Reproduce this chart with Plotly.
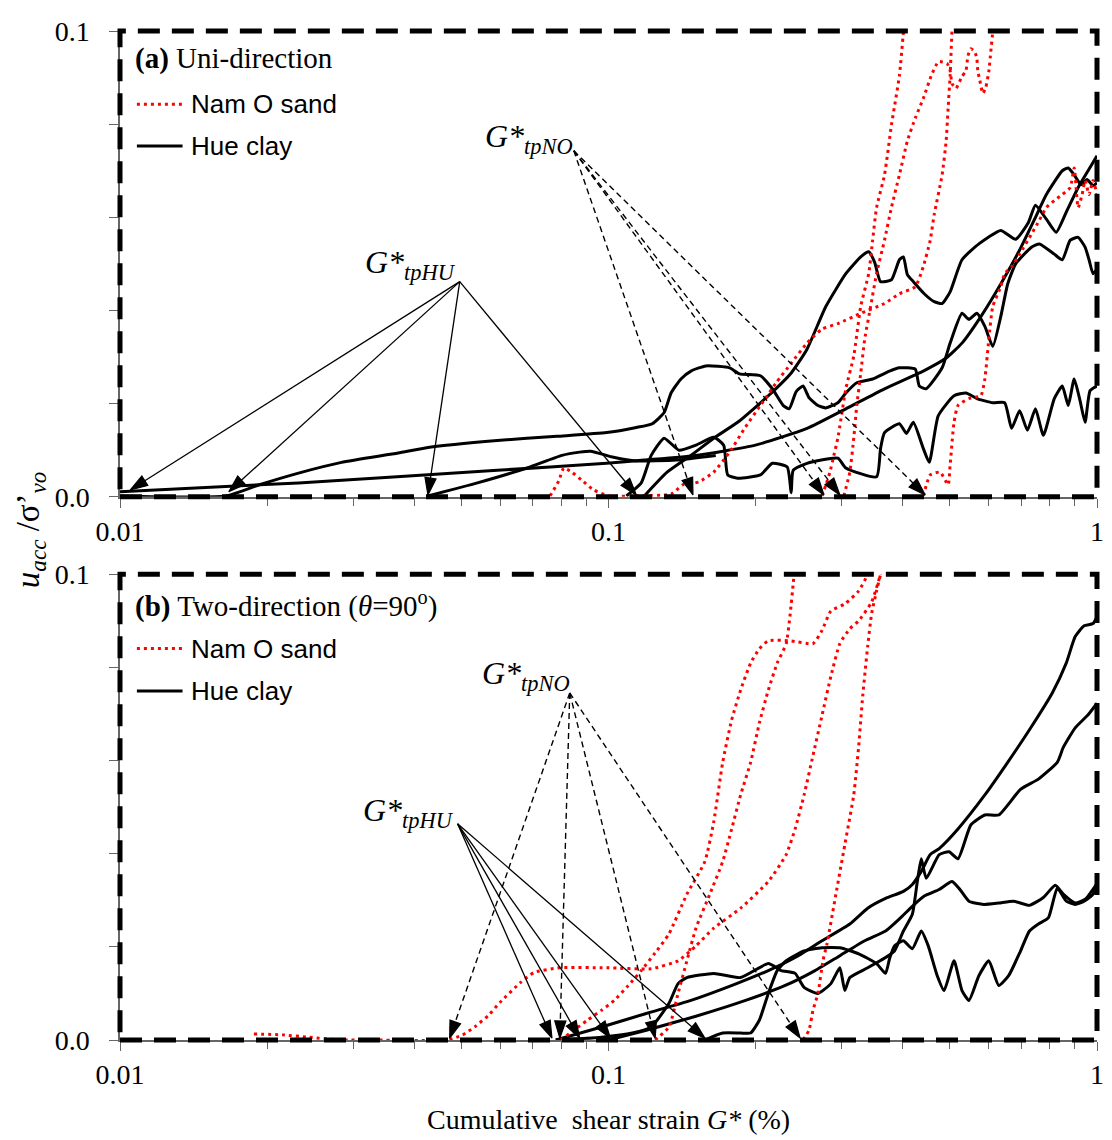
import plotly.graph_objects as go

# ---------------- DATA ----------------
# Panel (a) Uni-direction : Hue clay (black solid)
a_hu1_x = [0.0100, 0.0165, 0.0193, 0.0232, 0.0284, 0.0371, 0.0427, 0.0592, 0.0784, 0.0991, 0.1140, 0.1229, 0.1300, 0.1343, 0.1407, 0.1475, 0.1582, 0.1770, 0.1855, 0.2046, 0.2165, 0.2279, 0.2344, 0.2422, 0.2502, 0.2573, 0.2684, 0.2787, 0.2948, 0.3061, 0.3223, 0.3473, 0.3760, 0.3940, 0.4246, 0.4327, 0.4471, 0.4819, 0.5004, 0.5292, 0.5468, 0.5677, 0.5894, 0.6119, 0.6353, 0.6564, 0.6815, 0.7342, 0.7622, 0.8176, 0.8491, 0.8814, 0.9150, 0.9454, 0.9632, 0.9815, 1.0]
a_hu1_y = [0.0002, 0.0002, 0.0026, 0.0051, 0.0074, 0.0094, 0.0106, 0.0121, 0.0130, 0.0138, 0.0149, 0.0157, 0.0181, 0.0223, 0.0253, 0.0270, 0.0281, 0.0277, 0.0264, 0.0260, 0.0232, 0.0196, 0.0189, 0.0226, 0.0238, 0.0213, 0.0196, 0.0191, 0.0202, 0.0223, 0.0245, 0.0253, 0.0270, 0.0277, 0.0274, 0.0238, 0.0232, 0.0277, 0.0330, 0.0394, 0.0381, 0.0394, 0.0366, 0.0323, 0.0387, 0.0457, 0.0500, 0.0536, 0.0543, 0.0521, 0.0509, 0.0551, 0.0557, 0.0536, 0.0509, 0.0479, 0.0489]

a_hu2_x = [0.0100, 0.0232, 0.0592, 0.0991, 0.1184, 0.1510, 0.1999, 0.2549, 0.3061, 0.3673, 0.4409, 0.4911, 0.5292, 0.5784, 0.6353, 0.6944, 0.7482, 0.7877, 0.8491, 0.8732, 0.8981, 0.9280, 0.9543, 0.9815, 1.0]
a_hu2_y = [0.0011, 0.0030, 0.0057, 0.0072, 0.0079, 0.0089, 0.0111, 0.0147, 0.0189, 0.0232, 0.0270, 0.0298, 0.0330, 0.0387, 0.0457, 0.0530, 0.0600, 0.0649, 0.0700, 0.0706, 0.0691, 0.0670, 0.0681, 0.0668, 0.0674]

a_hu3_x = [0.0427, 0.0539, 0.0681, 0.0803, 0.0873, 0.0919, 0.1024, 0.1140, 0.1375, 0.1658]
a_hu3_y = [0.0002, 0.0030, 0.0062, 0.0089, 0.0096, 0.0098, 0.0085, 0.0077, 0.0079, 0.0089]

a_hu4_x = [0.1088, 0.1167, 0.1223, 0.1300, 0.1394, 0.1510, 0.1642, 0.1721, 0.1754, 0.1838, 0.2046, 0.2165, 0.2322, 0.2366, 0.2388, 0.2549, 0.2948, 0.3061, 0.3538, 0.3605, 0.3673, 0.3940, 0.4073, 0.4207, 0.4409, 0.4536, 0.4731, 0.5097, 0.5391, 0.5677, 0.6119, 0.6471, 0.6686, 0.6944, 0.7204, 0.7482, 0.7767, 0.8176, 0.8491, 0.8732, 0.8981, 0.9234, 0.9454, 0.9678, 1.0]
a_hu4_y = [0.0002, 0.0030, 0.0089, 0.0126, 0.0100, 0.0111, 0.0128, 0.0111, 0.0047, 0.0040, 0.0047, 0.0072, 0.0064, 0.0009, 0.0057, 0.0072, 0.0083, 0.0062, 0.0043, 0.0104, 0.0138, 0.0157, 0.0136, 0.0160, 0.0104, 0.0074, 0.0174, 0.0217, 0.0223, 0.0211, 0.0202, 0.0202, 0.0147, 0.0185, 0.0143, 0.0189, 0.0132, 0.0211, 0.0238, 0.0196, 0.0253, 0.0206, 0.0160, 0.0228, 0.0238]

a_hu5_x = [0.1184, 0.1318, 0.1475, 0.1642, 0.1838, 0.2124, 0.2366, 0.2549, 0.2787, 0.3061, 0.3284, 0.3409, 0.3505, 0.3605, 0.3795, 0.3940, 0.4015, 0.4091, 0.4207, 0.4429, 0.4642, 0.4819, 0.5004, 0.5292, 0.5730, 0.6353, 0.6815, 0.7238, 0.7482, 0.7877, 0.8253, 0.8650, 0.9150, 0.9588, 1.0]
a_hu5_y = [0.0002, 0.0053, 0.0089, 0.0126, 0.0160, 0.0217, 0.0266, 0.0317, 0.0409, 0.0479, 0.0515, 0.0526, 0.0504, 0.0462, 0.0466, 0.0509, 0.0515, 0.0477, 0.0462, 0.0436, 0.0419, 0.0415, 0.0440, 0.0509, 0.0543, 0.0572, 0.0553, 0.0589, 0.0626, 0.0596, 0.0568, 0.0611, 0.0664, 0.0700, 0.0732]

# Panel (a) : Nam O sand (red dotted)
a_no1_x = [0.0759, 0.0791, 0.0810, 0.0841, 0.0881, 0.0932, 0.1000, 0.1140, 0.1343, 0.1421, 0.1531, 0.1642, 0.1770, 0.1899, 0.2046, 0.2205, 0.2366, 0.2549, 0.2735, 0.2948, 0.3284, 0.3673, 0.3940, 0.4246, 0.4409, 0.4557, 0.4642, 0.4819, 0.4911, 0.4957, 0.5004, 0.5050, 0.5097]
a_no1_y = [0.0002, 0.0034, 0.0062, 0.0053, 0.0036, 0.0015, 0.0002, 0.0002, 0.0006, 0.0026, 0.0032, 0.0053, 0.0096, 0.0147, 0.0196, 0.0245, 0.0287, 0.0330, 0.0360, 0.0372, 0.0394, 0.0415, 0.0436, 0.0451, 0.0494, 0.0551, 0.0606, 0.0691, 0.0764, 0.0834, 0.0904, 0.1004, 0.1068]

a_no2_x = [0.2735, 0.2787, 0.2840, 0.2893, 0.2948, 0.3061, 0.3177, 0.3284, 0.3409, 0.3473, 0.3538, 0.3673, 0.3795, 0.3940, 0.4015, 0.4052]
a_no2_y = [0.0002, 0.0026, 0.0053, 0.0089, 0.0126, 0.0232, 0.0302, 0.0409, 0.0479, 0.0551, 0.0621, 0.0691, 0.0798, 0.0904, 0.0998, 0.1047]

a_no3_x = [0.3032, 0.3119, 0.3177, 0.3223, 0.3284, 0.3345, 0.3441, 0.3538, 0.3673, 0.3795, 0.3940, 0.4091, 0.4246, 0.4409, 0.4578, 0.4731, 0.4797, 0.4934, 0.5004, 0.5050, 0.5145, 0.5218, 0.5292, 0.5391, 0.5443, 0.5520, 0.5623, 0.5677, 0.5703, 0.5757, 0.5838, 0.5921, 0.6005, 0.6061, 0.6119, 0.6147]
a_no3_y = [0.0002, 0.0053, 0.0126, 0.0196, 0.0266, 0.0338, 0.0409, 0.0479, 0.0551, 0.0621, 0.0691, 0.0764, 0.0813, 0.0855, 0.0904, 0.0934, 0.0934, 0.0930, 0.0915, 0.0887, 0.0877, 0.0889, 0.0902, 0.0915, 0.0947, 0.0962, 0.0955, 0.0940, 0.0913, 0.0894, 0.0866, 0.0879, 0.0913, 0.0955, 0.1000, 0.1036]

a_no4_x = [0.4409, 0.4557, 0.4775, 0.4957, 0.5004, 0.5097, 0.5193, 0.5468, 0.5784, 0.5894, 0.6005, 0.6119, 0.6353, 0.6471, 0.6686, 0.6944, 0.7342, 0.7622, 0.7877, 0.8176, 0.8491, 0.8814, 0.8981, 0.9150, 0.9322, 0.9454, 0.9632, 0.9815, 1.0]
a_no4_y = [0.0002, 0.0047, 0.0053, 0.0026, 0.0068, 0.0160, 0.0196, 0.0211, 0.0217, 0.0253, 0.0338, 0.0409, 0.0451, 0.0479, 0.0494, 0.0521, 0.0564, 0.0594, 0.0621, 0.0636, 0.0649, 0.0664, 0.0706, 0.0621, 0.0649, 0.0679, 0.0649, 0.0679, 0.0649]

# Panel (b) Two-direction : Nam O sand (red dotted)
b_no1_x = [0.0188, 0.0215, 0.0243, 0.0284, 0.0333, 0.0469, 0.0503, 0.0532, 0.0568, 0.0600, 0.0660, 0.0704, 0.0795, 0.0991, 0.1223, 0.1388, 0.1510, 0.1642, 0.1864, 0.2124, 0.2311, 0.2410, 0.2514, 0.2622, 0.2735, 0.2853, 0.2976, 0.3119, 0.3253, 0.3456, 0.3605, 0.3673]
b_no1_y = [0.0013, 0.0011, 0.0006, 0.0000, 0.0000, 0.0000, 0.0011, 0.0028, 0.0053, 0.0081, 0.0123, 0.0145, 0.0155, 0.0155, 0.0153, 0.0170, 0.0202, 0.0240, 0.0283, 0.0340, 0.0398, 0.0453, 0.0526, 0.0611, 0.0696, 0.0781, 0.0851, 0.0883, 0.0900, 0.0940, 0.1000, 0.1032]

b_no2_x = [0.0799, 0.0849, 0.0907, 0.0968, 0.1028, 0.1098, 0.1167, 0.1246, 0.1330, 0.1447, 0.1575, 0.1642, 0.1713, 0.1787, 0.1864, 0.1954, 0.2037, 0.2124, 0.2355, 0.2622, 0.2735, 0.2853, 0.3046, 0.3253, 0.3393, 0.3441]
b_no2_y = [0.0000, 0.0021, 0.0043, 0.0064, 0.0085, 0.0117, 0.0149, 0.0187, 0.0228, 0.0313, 0.0383, 0.0468, 0.0596, 0.0687, 0.0751, 0.0809, 0.0840, 0.0857, 0.0857, 0.0851, 0.0879, 0.0921, 0.0936, 0.0964, 0.1000, 0.1032]

b_no3_x = [0.1246, 0.1330, 0.1388, 0.1447, 0.1510, 0.1612, 0.1713, 0.1787, 0.1864, 0.1954, 0.2037, 0.2124, 0.2215, 0.2311, 0.2355, 0.2388, 0.2410]
b_no3_y = [0.0000, 0.0028, 0.0100, 0.0170, 0.0240, 0.0313, 0.0383, 0.0453, 0.0526, 0.0596, 0.0681, 0.0751, 0.0809, 0.0851, 0.0915, 0.0979, 0.1021]

b_no4_x = [0.2502, 0.2573, 0.2622, 0.2684, 0.2748, 0.2800, 0.2921, 0.3046, 0.3177, 0.3253, 0.3314, 0.3393, 0.3456, 0.3538, 0.3605, 0.3639]
b_no4_y = [0.0000, 0.0021, 0.0064, 0.0100, 0.0170, 0.0206, 0.0313, 0.0419, 0.0526, 0.0632, 0.0738, 0.0845, 0.0915, 0.0964, 0.1000, 0.1032]

# Panel (b) : Hue clay (black solid)
b_hu1_x = [0.0780, 0.0968, 0.1195, 0.1475, 0.1829, 0.2124, 0.2410, 0.2735, 0.3119, 0.3393, 0.3691, 0.4015, 0.4188, 0.4368, 0.4557, 0.4753, 0.5193, 0.5894, 0.6564, 0.7273, 0.8100, 0.8650, 0.9023, 0.9410, 0.9815, 1.0]
b_hu1_y = [0.0000, 0.0028, 0.0057, 0.0085, 0.0121, 0.0149, 0.0177, 0.0213, 0.0249, 0.0283, 0.0304, 0.0319, 0.0334, 0.0362, 0.0398, 0.0411, 0.0453, 0.0526, 0.0596, 0.0666, 0.0745, 0.0809, 0.0866, 0.0889, 0.0894, 0.0909]

b_hu2_x = [0.0780, 0.0968, 0.1119, 0.1223, 0.1330, 0.1388, 0.1447, 0.1642, 0.1864, 0.2124, 0.2258, 0.2410, 0.2514, 0.2684, 0.2853, 0.2976, 0.3046, 0.3119, 0.3393, 0.3691, 0.3849, 0.4015, 0.4188, 0.4287, 0.4368, 0.4471, 0.4753, 0.4980, 0.5193, 0.5520, 0.5894, 0.6292, 0.6973, 0.7587, 0.8292, 0.8530, 0.9023, 0.9588, 1.0]
b_hu2_y = [0.0000, 0.0006, 0.0015, 0.0028, 0.0079, 0.0121, 0.0134, 0.0143, 0.0134, 0.0164, 0.0149, 0.0143, 0.0113, 0.0100, 0.0121, 0.0155, 0.0106, 0.0134, 0.0155, 0.0177, 0.0191, 0.0234, 0.0270, 0.0340, 0.0389, 0.0347, 0.0398, 0.0404, 0.0389, 0.0462, 0.0483, 0.0483, 0.0538, 0.0560, 0.0596, 0.0628, 0.0670, 0.0698, 0.0723]

b_hu3_x = [0.1000, 0.1195, 0.1510, 0.1908, 0.2300, 0.2647, 0.2976, 0.3345, 0.3691, 0.3940, 0.4188, 0.4429, 0.4753, 0.5050, 0.5242, 0.5468, 0.5866, 0.6292, 0.6750, 0.7273, 0.7767, 0.8215, 0.8530, 0.9023, 0.9454, 1.0]
b_hu3_y = [0.0000, 0.0021, 0.0051, 0.0085, 0.0117, 0.0149, 0.0181, 0.0213, 0.0234, 0.0260, 0.0287, 0.0309, 0.0323, 0.0340, 0.0323, 0.0298, 0.0291, 0.0294, 0.0298, 0.0289, 0.0306, 0.0332, 0.0313, 0.0294, 0.0302, 0.0336]

b_hu4_x = [0.1575, 0.1713, 0.1864, 0.1954, 0.2037, 0.2124, 0.2215, 0.2311, 0.2514, 0.2735, 0.2976, 0.3253, 0.3538, 0.3691, 0.3760, 0.3849, 0.4015, 0.4188, 0.4368, 0.4514, 0.4709, 0.4864, 0.5097, 0.5292, 0.5468, 0.5730, 0.6005, 0.6292, 0.6594, 0.6973, 0.7273, 0.7587, 0.7950, 0.8292, 0.8650, 0.9023, 0.9410, 0.9815, 1.0]
b_hu4_y = [0.0000, 0.0015, 0.0015, 0.0015, 0.0043, 0.0100, 0.0149, 0.0170, 0.0191, 0.0198, 0.0198, 0.0185, 0.0164, 0.0143, 0.0174, 0.0202, 0.0213, 0.0196, 0.0234, 0.0202, 0.0138, 0.0106, 0.0170, 0.0106, 0.0085, 0.0138, 0.0170, 0.0117, 0.0138, 0.0191, 0.0234, 0.0249, 0.0262, 0.0326, 0.0298, 0.0291, 0.0298, 0.0313, 0.0340]

# Threshold-strain pointers (label anchor -> arrow tips on the axis)
a_hu_src = [0.0496, 0.0462]
a_hu_tips = [0.0105, 0.0167, 0.0427, 0.1140]
a_hu_tips_y = [0.0015, 0.0011, 0.0004, 0.0004]
a_no_src = [0.0849, 0.0743]
a_no_tips = [0.1489, 0.2761, 0.2976, 0.4450]
b_hu_src = [0.0491, 0.0464]
b_hu_tips = [0.0766, 0.0873, 0.1009, 0.1575]
b_no_src = [0.0833, 0.0745]
b_no_tips = [0.0473, 0.0795, 0.1246, 0.2468]
tip_y = 0.0004

# Axis ticks
x_tickvals = [0.01, 0.1, 1.0]
x_ticktext = ['0.01', '0.1', '1']
x_minorvals = [0.02, 0.03, 0.04, 0.05, 0.06, 0.07, 0.08, 0.09,
               0.2, 0.3, 0.4, 0.5, 0.6, 0.7, 0.8, 0.9]
y_tickvals = [0.0, 0.1]
y_ticktext = ['0.0', '0.1']
y_minorvals = [0.02, 0.04, 0.06, 0.08]

# ---------------- FIGURE ----------------
SERIF = "Liberation Serif"
SANS = "Liberation Sans"
RED = "#ff0000"
fig = go.Figure()

def check(x, y, name):
    if len(x) != len(y):
        raise ValueError(f"length mismatch in {name}: {len(x)} vs {len(y)}")

def clay(x, y, xa, ya, name):
    check(x, y, name)
    fig.add_trace(go.Scatter(x=x, y=y, mode="lines", xaxis=xa, yaxis=ya,
                             line=dict(color="black", width=3, shape="spline", smoothing=0.5),
                             showlegend=False, hoverinfo="skip"))

def sand(x, y, xa, ya, name):
    check(x, y, name)
    fig.add_trace(go.Scatter(x=x, y=y, mode="lines", xaxis=xa, yaxis=ya,
                             line=dict(color=RED, width=3, dash="3px,4px", shape="spline", smoothing=0.5),
                             showlegend=False, hoverinfo="skip"))

for nm, (x, y) in {"a_hu1": (a_hu1_x, a_hu1_y), "a_hu2": (a_hu2_x, a_hu2_y),
                   "a_hu3": (a_hu3_x, a_hu3_y), "a_hu4": (a_hu4_x, a_hu4_y),
                   "a_hu5": (a_hu5_x, a_hu5_y)}.items():
    clay(x, y, "x", "y", nm)
for nm, (x, y) in {"a_no1": (a_no1_x, a_no1_y), "a_no2": (a_no2_x, a_no2_y),
                   "a_no3": (a_no3_x, a_no3_y), "a_no4": (a_no4_x, a_no4_y)}.items():
    sand(x, y, "x", "y", nm)
for nm, (x, y) in {"b_hu1": (b_hu1_x, b_hu1_y), "b_hu2": (b_hu2_x, b_hu2_y),
                   "b_hu3": (b_hu3_x, b_hu3_y), "b_hu4": (b_hu4_x, b_hu4_y)}.items():
    clay(x, y, "x2", "y2", nm)
for nm, (x, y) in {"b_no1": (b_no1_x, b_no1_y), "b_no2": (b_no2_x, b_no2_y),
                   "b_no3": (b_no3_x, b_no3_y), "b_no4": (b_no4_x, b_no4_y)}.items():
    sand(x, y, "x2", "y2", nm)

def arrows(src, tips, tips_y, xa, ya, dashed):
    for tx, ty in zip(tips, tips_y):
        fig.add_trace(go.Scatter(
            x=[src[0], tx], y=[src[1], ty], mode="lines+markers", xaxis=xa, yaxis=ya,
            line=dict(color="black", width=1.4 if dashed else 1.3, dash="6px,4px" if dashed else "solid"),
            marker=dict(symbol="arrow", angleref="previous", size=[0, 18], color="#000000",
                        opacity=1, line=dict(width=1.2, color="#000000")),
            cliponaxis=False, showlegend=False, hoverinfo="skip"))

arrows(a_hu_src, a_hu_tips, a_hu_tips_y, "x", "y", False)
arrows(a_no_src, a_no_tips, [tip_y] * len(a_no_tips), "x", "y", True)
arrows(b_hu_src, b_hu_tips, [tip_y] * len(b_hu_tips), "x2", "y2", False)
arrows(b_no_src, b_no_tips, [tip_y] * len(b_no_tips), "x2", "y2", True)

axis_common = dict(showgrid=False, zeroline=False, showline=True, linecolor="#666666",
                   linewidth=1.5, ticks="outside", ticklen=9, tickwidth=1.3, tickcolor="#666666",
                   tickfont=dict(family=SERIF, size=28, color="black"))
xcommon = dict(type="log", range=[-2, 0], tickmode="array", tickvals=x_tickvals,
               ticktext=x_ticktext,
               minor=dict(tickmode="array", tickvals=x_minorvals, ticks="outside",
                          ticklen=7, tickwidth=1.3, tickcolor="#666666", showgrid=False),
               **axis_common)
ycommon = dict(range=[0, 0.1], tickmode="array", tickvals=y_tickvals, ticktext=y_ticktext,
               minor=dict(tickmode="array", tickvals=y_minorvals, ticks="outside",
                          ticklen=9, tickwidth=1.3, tickcolor="#666666", showgrid=False),
               ticklabelstandoff=14, **axis_common)

# page is offset 8px by the browser body margin -> figure is 1104 x 1132
TOP_DOM = [0.5383, 1.0]
BOT_DOM = [0.0, 0.4617]
fig.update_layout(
    width=1104, height=1132, autosize=False,
    margin=dict(l=112, r=8, t=14, b=100),
    paper_bgcolor="white", plot_bgcolor="white",
    showlegend=False,
    xaxis=dict(domain=[0, 1], anchor="y", **xcommon),
    yaxis=dict(domain=TOP_DOM, anchor="x", **ycommon),
    xaxis2=dict(domain=[0, 1], anchor="y2", **xcommon),
    yaxis2=dict(domain=BOT_DOM, anchor="x2", **ycommon),
)

shapes = []
for xr, yr in [("x domain", "y domain"), ("x2 domain", "y2 domain")]:
    shapes.append(dict(type="rect", xref=xr, yref=yr, x0=0, x1=1, y0=0, y1=1,
                       line=dict(color="black", width=5, dash="22px,12px"), layer="above"))

annotations = []
def legend_block(title, y_title, y_sand, y_clay):
    annotations.append(dict(text=title, xref="paper", yref="paper", x=0.013, y=y_title,
                            xanchor="left", yanchor="middle", showarrow=False,
                            font=dict(family=SERIF, size=29, color="black")))
    for yy, txt, col, dash in [(y_sand, "Nam O sand", RED, "3px,4px"), (y_clay, "Hue clay", "black", "solid")]:
        shapes.append(dict(type="line", xref="paper", yref="paper", x0=0.0173, x1=0.064,
                           y0=yy, y1=yy, line=dict(color=col, width=3, dash=dash)))
        annotations.append(dict(text=txt, xref="paper", yref="paper", x=0.071, y=yy,
                                xanchor="left", yanchor="middle", showarrow=False,
                                font=dict(family=SANS, size=26, color="black")))

legend_block("<b>(a)</b> Uni-direction", 0.9725, 0.9273, 0.8861)
legend_block("<b>(b)</b> Two-direction (<i>θ</i>=90<sup>o</sup>)", 0.4312, 0.3880, 0.3458)

def label(txt, x, y):
    annotations.append(dict(text=txt, xref="paper", yref="paper", x=x, y=y,
                            xanchor="right", yanchor="middle", showarrow=False,
                            font=dict(family=SERIF, size=32, color="black")))

label("<i>G*</i><sub><i>tpHU</i></sub>", 0.3455, 0.7682)
label("<i>G*</i><sub><i>tpNO</i></sub>", 0.4654, 0.8939)
label("<i>G*</i><sub><i>tpNO</i></sub>", 0.4624, 0.3615)
label("<i>G*</i><sub><i>tpHU</i></sub>", 0.3435, 0.2259)

annotations.append(dict(text="<i>u</i><sub><i>acc</i></sub> /σ’<sub><i>vo</i></sub>",
                        xref="paper", yref="paper", x=-0.0915, y=0.5059, textangle=-90,
                        xanchor="center", yanchor="middle", showarrow=False,
                        font=dict(family=SERIF, size=33, color="black")))
annotations.append(dict(text="Cumulative  shear strain <i>G*</i> (%)",
                        xref="paper", yref="paper", x=0.5, y=-0.0786,
                        xanchor="center", yanchor="middle", showarrow=False,
                        font=dict(family=SERIF, size=28, color="black")))

fig.update_layout(shapes=shapes, annotations=annotations)
fig.write_html("out.html")
